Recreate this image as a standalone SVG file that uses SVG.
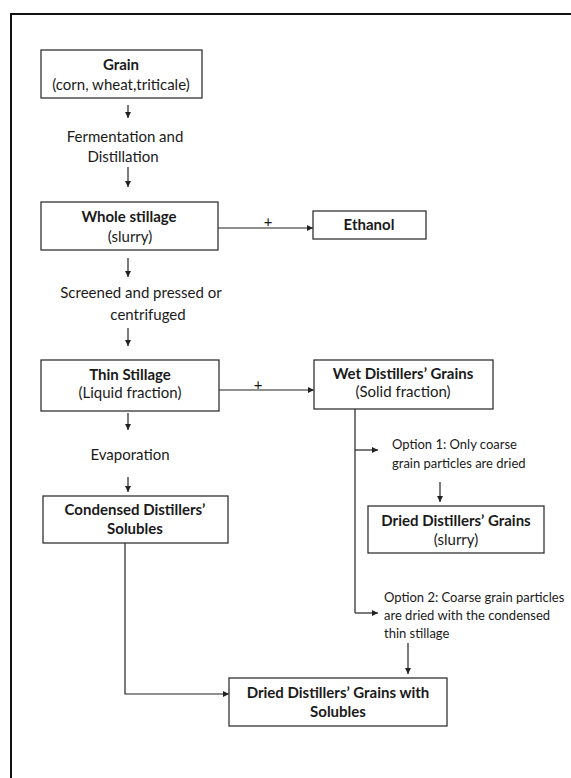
<svg xmlns="http://www.w3.org/2000/svg" width="571" height="778" viewBox="0 0 571 778">
<style>
.box{fill:#fff;stroke:#333;stroke-width:1.3}
.t{font-family:Lato,"Liberation Sans",sans-serif;font-size:15px;fill:#1a1a1a;text-anchor:middle}
.b{font-weight:bold}
.s{font-family:Lato,"Liberation Sans",sans-serif;font-size:13px;fill:#1a1a1a}
.ln{fill:none;stroke:#222;stroke-width:1.2}
.ar{fill:none;stroke:#222;stroke-width:1.2;marker-end:url(#ah)}
</style>
<defs>
<marker id="ah" viewBox="0 0 10 10" refX="10" refY="5" markerWidth="6" markerHeight="6" markerUnits="userSpaceOnUse" orient="auto">
<path d="M0,0 L10,5 L0,10 Z" fill="#222"/>
</marker>
</defs>
<rect width="571" height="778" fill="#fff"/>
<path d="M11,778 V14 H571" fill="none" stroke="#111" stroke-width="2"/>
<g id="connectors">
<line class="ar" x1="128" y1="105" x2="128" y2="118"/>
<line class="ar" x1="128" y1="167" x2="128" y2="187"/>
<line class="ar" x1="218" y1="228" x2="313" y2="228"/>
<line class="ar" x1="128" y1="258" x2="128" y2="277"/>
<line class="ar" x1="128" y1="328" x2="128" y2="346"/>
<line class="ar" x1="219" y1="390" x2="314" y2="390"/>
<line class="ar" x1="128" y1="413" x2="128" y2="430"/>
<line class="ar" x1="128" y1="477" x2="128" y2="492"/>
<path class="ln" d="M355,409 V613"/>
<line class="ar" x1="355" y1="450" x2="378" y2="450"/>
<path class="ar" d="M355,613 H378"/>
<line class="ar" x1="440" y1="482" x2="440" y2="502"/>
<line class="ar" x1="408" y1="643" x2="408" y2="674"/>
<path class="ar" d="M125,543 V694 H229"/>
<text class="t" x="268" y="227">+</text>
<text class="t" x="258" y="390">+</text>
</g>
<g id="grain">
<rect class="box" x="41" y="50" width="161" height="48"/>
<text class="t b" x="121" y="70">Grain</text>
<text class="t" x="121" y="90">(corn, wheat,triticale)</text>
</g>
<g id="ferm">
<text class="t" x="125" y="142">Fermentation and</text>
<text class="t" x="123" y="162">Distillation</text>
</g>
<g id="whole">
<rect class="box" x="41" y="202" width="177" height="48"/>
<text class="t b" x="129" y="222">Whole stillage</text>
<text class="t" x="130" y="242">(slurry)</text>
</g>
<g id="ethanol">
<rect class="box" x="313" y="211" width="113" height="28"/>
<text class="t b" x="369" y="230">Ethanol</text>
</g>
<g id="screen">
<text class="t" x="141" y="298">Screened and pressed or</text>
<text class="t" x="148" y="320">centrifuged</text>
</g>
<g id="thin">
<rect class="box" x="41" y="360" width="178" height="51"/>
<text class="t b" x="130" y="380">Thin Stillage</text>
<text class="t" x="130" y="398">(Liquid fraction)</text>
</g>
<g id="wet">
<rect class="box" x="314" y="360" width="179" height="49"/>
<text class="t b" x="403" y="379">Wet Distillers’ Grains</text>
<text class="t" x="403" y="397">(Solid fraction)</text>
</g>
<g id="evap">
<text class="t" x="130" y="460">Evaporation</text>
</g>
<g id="cds">
<rect class="box" x="43" y="496" width="185" height="47"/>
<text class="t b" x="135" y="515">Condensed Distillers’</text>
<text class="t b" x="135" y="534">Solubles</text>
</g>
<g id="opt1">
<text class="s" x="392" y="449">Option 1: Only coarse</text>
<text class="s" x="392" y="468">grain particles are dried</text>
</g>
<g id="ddg">
<rect class="box" x="368" y="506" width="176" height="47"/>
<text class="t b" x="456" y="526">Dried Distillers’ Grains</text>
<text class="t" x="456" y="545">(slurry)</text>
</g>
<g id="opt2">
<text class="s" x="384" y="602">Option 2: Coarse grain particles</text>
<text class="s" x="384" y="620">are dried with the condensed</text>
<text class="s" x="384" y="638">thin stillage</text>
</g>
<g id="ddgs">
<rect class="box" x="229" y="678" width="218" height="48"/>
<text class="t b" x="338" y="698">Dried Distillers’ Grains with</text>
<text class="t b" x="338" y="717">Solubles</text>
</g>
</svg>
